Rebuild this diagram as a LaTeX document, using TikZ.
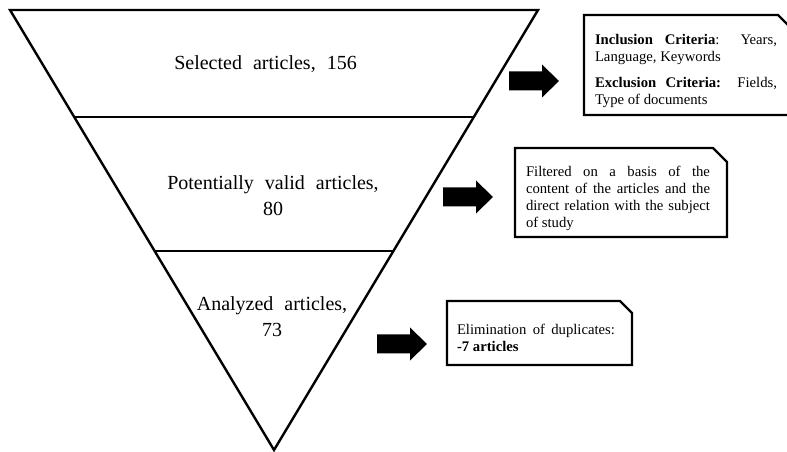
\documentclass[tikz,border=0pt]{standalone}
\usepackage{fontspec}
\setmainfont{Liberation Serif}
\newfontfamily\funnelfont[WordSpace=2.2]{Liberation Serif}
\usepackage{tikz}

\tikzset{
    stage/.style={font=\funnelfont\fontsize{20bp}{26bp}\selectfont, align=center},
    notebox/.style={draw, line width=2.4bp},
    notetext/.style={inner sep=0pt, align=justify,
        font=\fontsize{14.7bp}{17bp}\selectfont}
}

\begin{document}
\begin{tikzpicture}[x=1bp, y=-1bp]
    \useasboundingbox (0,0) rectangle (787,452);

    \coordinate (tl) at (10, 10);
    \coordinate (tr) at (538, 10);
    \coordinate (apex) at (274, 450);
    \coordinate (l1) at (74.2, 117);
    \coordinate (r1) at (473.8, 117);
    \coordinate (l2) at (154.6, 251);
    \coordinate (r2) at (393.4, 251);

    \draw[line width=2.4bp] (tl) -- (tr) -- (apex) -- cycle;
    \draw[line width=2.4bp] (l1) -- (r1);
    \draw[line width=2.4bp] (l2) -- (r2);

    \node[stage, anchor=base] (sel) at (265.5, 70) {Selected articles, 156};
    \node[stage] (pot) at (273, 196) {Potentially valid articles,\\80};
    \node[stage] (ana) at (272, 317) {Analyzed articles,\\73};

    \coordinate (arr1) at (509, 81);
    \coordinate (arr2) at (443, 197);
    \coordinate (arr3) at (377, 344);

    \fill (arr1) ++(0,-9.5) -- ++(33,0) -- ++(0,-7) -- ++(17,16.5) -- ++(-17,16.5) -- ++(0,-7) -- ++(-33,0) -- cycle;
    \fill (arr2) ++(0,-9.5) -- ++(33,0) -- ++(0,-7) -- ++(17,16.5) -- ++(-17,16.5) -- ++(0,-7) -- ++(-33,0) -- cycle;
    \fill (arr3) ++(0,-9.5) -- ++(33,0) -- ++(0,-7) -- ++(17,16.5) -- ++(-17,16.5) -- ++(0,-7) -- ++(-33,0) -- cycle;

    \draw[notebox] (584,15) -- (778,15) -- (792,29) -- (792,115) -- (584,115) -- cycle;
    \draw[notebox] (515,148) -- (713,148) -- (727,162) -- (727,237) -- (515,237) -- cycle;
    \draw[notebox] (447,301) -- (620,301) -- (632,313) -- (632,365) -- (447,365) -- cycle;

    \node[notetext, text width=182bp] (crit) at (686, 71)
        {\textbf{Inclusion Criteria}: Years,\linebreak Language, Keywords\\[9bp]\textbf{Exclusion Criteria:} Fields,\linebreak Type of documents};
    \node[notetext, text width=184bp] (filt) at (618, 198)
        {Filtered on a basis of the\linebreak content of the articles and the\linebreak direct relation with the subject\linebreak of study};
    \node[notetext, text width=158bp] (dup) at (536, 337.5)
        {Elimination of duplicates:\linebreak \textbf{-7 articles}};
\end{tikzpicture}
\end{document}
